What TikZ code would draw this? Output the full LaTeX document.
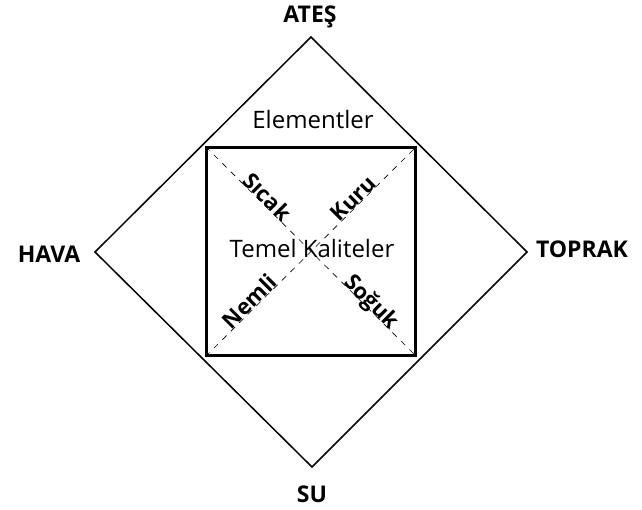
\documentclass[tikz,border=0pt]{standalone}
\usepackage{fontspec}
\setmainfont{Open Sans}
\usetikzlibrary{calc}
\begin{document}
\begin{tikzpicture}[x=1pt,y=-1pt,
  elem/.style={font=\bfseries\fontsize{23}{23}\selectfont, inner sep=0pt, anchor=base},
  plain/.style={font=\fontsize{24}{24}\selectfont, inner sep=0pt, anchor=base},
  qual/.style={font=\bfseries\fontsize{22}{22}\selectfont, inner sep=1pt, anchor=base},
  diag/.style={dashed, dash pattern=on 6pt off 6pt, line width=0.6pt},
  edge/.style={line width=1.5pt}]
\useasboundingbox (0,0) rectangle (642,509);
\coordinate (T) at (311,37);
\coordinate (L) at (95,252);
\coordinate (R) at (527,252);
\coordinate (B) at (312,467);
\draw[edge, line join=miter] (T) -- (R) -- (B) -- (L) -- cycle;
\node[draw, line width=2.4pt, minimum width=209pt, minimum height=208pt, inner sep=0pt] (sq) at (311,251.5) {};
\draw[diag] (sq.north west) -- (sq.south east);
\draw[diag] (sq.south west) -- (sq.north east);
\node[elem] (ates) at (310,22) {ATEŞ};
\node[elem] (hava) at (49,262) {HAVA};
\node[elem] (toprak) at (582,257) {TOPRAK};
\node[elem] (su) at (312,502) {SU};
\node[plain] (el) at (313,128) {Elementler};
\node[plain] (tk) at (312,257) {Temel Kaliteler};
\node[qual, rotate=-45] (sicak) at ($(sq.north west)!0.267!(sq.south east)$) {Sıcak};
\node[qual, rotate=45] (kuru) at ($(sq.south west)!0.726!(sq.north east)$) {Kuru};
\node[qual, rotate=45] (nemli) at ($(sq.south west)!0.236!(sq.north east)$) {Nemli};
\node[qual, rotate=-45] (soguk) at ($(sq.north west)!0.764!(sq.south east)$) {Soğuk};
\end{tikzpicture}
\end{document}
